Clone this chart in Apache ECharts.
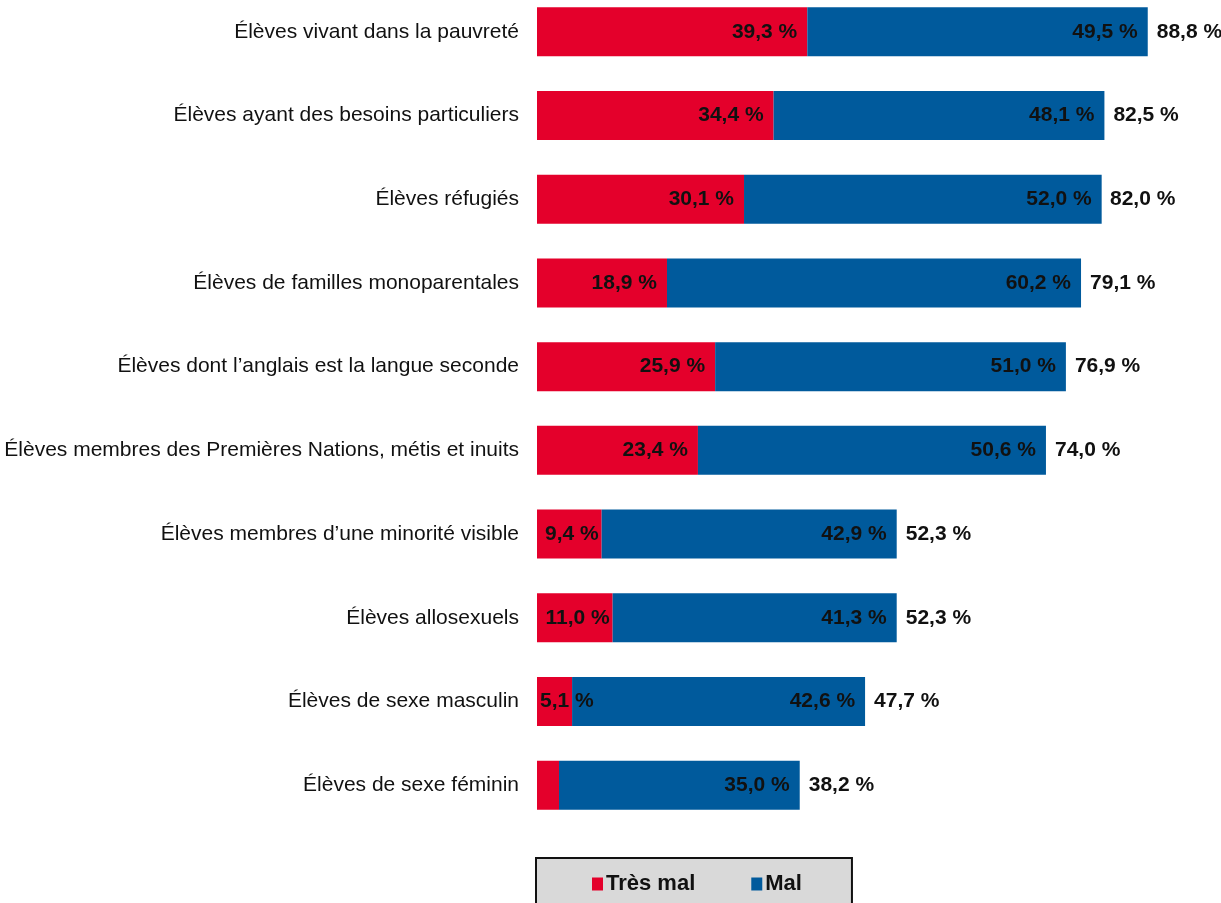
<!DOCTYPE html>
<html>
<head>
<meta charset="utf-8">
<script src="https://cdn.jsdelivr.net/npm/echarts@6/dist/echarts.min.js"></script>
<style>
  html, body { margin: 0; padding: 0; background: #fff; overflow: hidden; }
  /* le graphique dépasse un peu en haut, comme dans l'original */
  #chart { width: 1221px; height: 923px; margin-top: -20px; }
</style>
</head>
<body>
<div id="chart"></div>
<script>
var categories = [
  "Élèves vivant dans la pauvreté",
  "Élèves ayant des besoins particuliers",
  "Élèves réfugiés",
  "Élèves de familles monoparentales",
  "Élèves dont l’anglais est la langue seconde",
  "Élèves membres des Premières Nations, métis et inuits",
  "Élèves membres d’une minorité visible",
  "Élèves allosexuels",
  "Élèves de sexe masculin",
  "Élèves de sexe féminin"
];
var tresMal = [39.3, 34.4, 30.1, 18.9, 25.9, 23.4, 9.4, 11.0, 5.1, 3.2];
var mal = [49.5, 48.1, 52.0, 60.2, 51.0, 50.6, 42.9, 41.3, 42.6, 35.0];
var totals = [88.8, 82.5, 82.0, 79.1, 76.9, 74.0, 52.3, 52.3, 47.7, 38.2];
// le dernier segment rouge n'a pas d'étiquette dans l'original
var tresMalShown = [true, true, true, true, true, true, true, true, true, false];

var FONT = "'Liberation Sans Narrow', 'Arial Narrow', 'Liberation Sans', sans-serif";

function pct(v) {
  return v.toFixed(1).replace(".", ",") + " %";
}

var chart = echarts.init(document.getElementById("chart"));

var option = {
  animation: false,
  textStyle: { fontFamily: FONT },
  grid: { left: 537, top: 10, width: 619, height: 837, containLabel: false },
  xAxis: {
    type: "value",
    min: 0,
    max: 90,
    show: false
  },
  yAxis: {
    type: "category",
    data: categories,
    inverse: true,
    axisLine: { show: false },
    axisTick: { show: false },
    axisLabel: {
      fontFamily: FONT,
      fontSize: 21,
      color: "#111",
      margin: 18
    }
  },
  legend: {
    data: ["Très mal", "Mal"],
    left: 536,
    top: 878,
    icon: "rect",
    itemWidth: 11,
    itemHeight: 13,
    itemGap: 56,
    backgroundColor: "#d9d9d9",
    borderColor: "#111",
    borderWidth: 2,
    padding: [15, 50, 30, 56],
    textStyle: {
      fontFamily: FONT,
      fontSize: 22,
      fontWeight: "bold",
      color: "#111",
      padding: [0, 0, 0, -2]
    }
  },
  series: [
    {
      name: "Très mal",
      type: "bar",
      stack: "total",
      barWidth: 49,
      itemStyle: { color: "#e4002b" },
      data: tresMal.map(function (v, i) {
        var pos = "insideRight", dist = 10;
        if (v < 9) { pos = "insideLeft"; dist = 3; }
        else if (v < 12) { dist = 3; }
        return {
          value: v,
          label: { show: tresMalShown[i], position: pos, distance: dist }
        };
      }),
      label: {
        fontFamily: FONT,
        fontSize: 21,
        fontWeight: "bold",
        color: "#111",
        formatter: function (p) { return pct(p.value); }
      }
    },
    {
      name: "Mal",
      type: "bar",
      stack: "total",
      barWidth: 49,
      itemStyle: { color: "#005a9c" },
      data: mal,
      label: {
        show: true,
        position: "insideRight",
        distance: 10,
        fontFamily: FONT,
        fontSize: 21,
        fontWeight: "bold",
        color: "#111",
        formatter: function (p) { return pct(p.value); }
      }
    },
    {
      name: "Total",
      type: "scatter",
      symbolSize: 0,
      itemStyle: { opacity: 1 },
      data: totals.map(function (v, i) { return [v, categories[i]]; }),
      label: {
        show: true,
        position: "right",
        distance: 9,
        fontFamily: FONT,
        fontSize: 21,
        fontWeight: "bold",
        color: "#111",
        formatter: function (p) { return pct(p.value[0]); }
      },
      tooltip: { show: false }
    }
  ]
};

chart.setOption(option);
</script>
</body>
</html>
